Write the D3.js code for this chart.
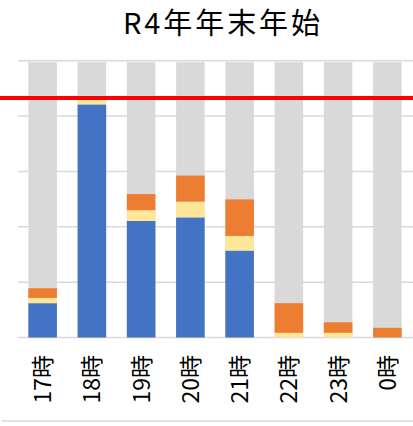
<!DOCTYPE html>
<html>
<head>
<meta charset="utf-8">
<script src="https://cdn.jsdelivr.net/npm/d3@7"></script>
<style>
  html, body { margin: 0; padding: 0; background: #fff; }
  svg { display: block; }
  text { font-family: "Noto Sans CJK JP", "Noto Sans", sans-serif; fill: #000; }
</style>
</head>
<body>
<script>
// Hourly breakdown (percent of capacity)
const categories = ["17時", "18時", "19時", "20時", "21時", "22時", "23時", "0時"];
const blueValues   = [12.4, 84.2, 42.1, 43.4, 31.4, 0, 0, 0];
const yellowValues = [1.9, 1.8, 3.9, 5.7, 5.3, 1.7, 1.7, 0];
const orangeValues = [3.5, 0, 5.8, 9.4, 13.2, 10.7, 3.8, 3.5];
const capacity     = [100, 100, 100, 100, 100, 100, 100, 100];
const limitValue = 86.5;
const yTicks = [0, 20, 40, 60, 80, 100];
const titleText = "R4年年末年始";

const W = 413, H = 426;
const svg = d3.select("body").append("svg").attr("width", W).attr("height", H);

const x = d3.scaleBand().domain(categories).range([18, 412])
  .paddingInner(0.42).paddingOuter(0.21);
const y = d3.scaleLinear().domain([0, 100]).range([337.5, 60.7]);

// horizontal gridlines
svg.append("g").selectAll("line").data(yTicks).join("line")
  .attr("x1", 18).attr("x2", 413)
  .attr("y1", d => y(d)).attr("y2", d => y(d))
  .attr("stroke", "#d9d9d9").attr("stroke-width", 1.5);

// capacity backdrop
svg.append("g").selectAll("rect").data(categories).join("rect")
  .attr("x", d => x(d)).attr("width", x.bandwidth())
  .attr("y", (d, i) => y(capacity[i]) + 1.5)
  .attr("height", (d, i) => y(0) - y(capacity[i]) - 1.5)
  .attr("fill", "#d9d9d9");

// stacked series
const rows = categories.map((c, i) => ({ cat: c, blue: blueValues[i], yellow: yellowValues[i], orange: orangeValues[i] }));
const keys = ["blue", "yellow", "orange"];
const colors = { blue: "#4472c4", yellow: "#ffe699", orange: "#ed7d31" };
const stacked = d3.stack().keys(keys)(rows);

svg.append("g").selectAll("g").data(stacked).join("g")
  .attr("fill", s => colors[s.key])
  .selectAll("rect").data(s => s).join("rect")
  .attr("x", d => x(d.data.cat)).attr("width", x.bandwidth())
  .attr("y", d => y(d[1]))
  .attr("height", d => Math.max(0, y(d[0]) - y(d[1])));

// limit line
svg.append("line")
  .attr("x1", 0).attr("x2", W)
  .attr("y1", y(limitValue)).attr("y2", y(limitValue))
  .attr("stroke", "#ff0000").attr("stroke-width", 4);

// category labels, rotated
svg.append("g").selectAll("text").data(categories).join("text")
  .attr("transform", d => `translate(${x(d) + x.bandwidth() / 2 + 8.5},355) rotate(-90)`)
  .attr("text-anchor", "end")
  .attr("font-size", 23)
  .text(d => d);

// frame bottom edge
svg.append("line").attr("x1", 2).attr("x2", W).attr("y1", 421).attr("y2", 421)
  .attr("stroke", "#d9d9d9").attr("stroke-width", 1.5);

// title
svg.append("text")
  .attr("x", 123).attr("y", 34)
  .attr("font-size", 29)
  .attr("textLength", 197).attr("lengthAdjust", "spacing")
  .text(titleText);
</script>
</body>
</html>
